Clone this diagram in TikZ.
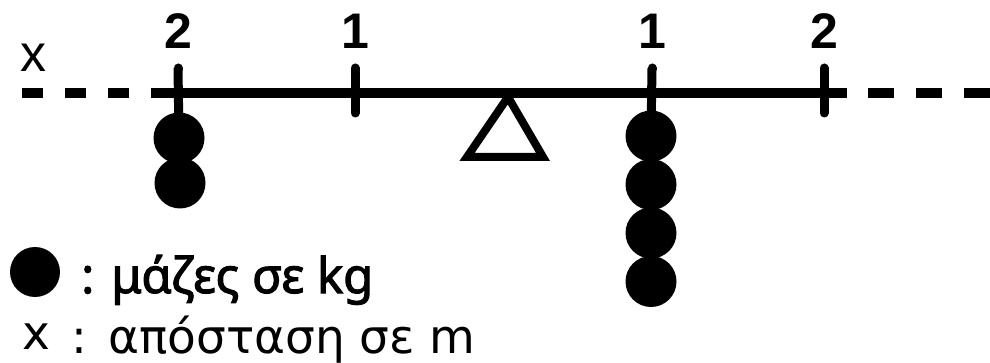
\documentclass[tikz,border=0pt]{standalone}
\usepackage{fontspec}
\setmainfont{DejaVu Sans}
\newfontfamily\numfont{Liberation Sans}
\newfontfamily\legfont[AutoFakeBold=2.2]{Noto Sans}
\tikzset{
  beam/.style={line width=10pt},
  tick/.style={line width=9pt,line cap=round},
  mass/.style={circle,fill=black,inner sep=0pt,minimum size=51pt},
  num/.style={font=\numfont\bfseries\fontsize{50}{50}\selectfont,inner sep=0pt},
  legone/.style={anchor=base west,inner sep=0pt,font=\legfont\bfseries\fontsize{49}{49}\selectfont},
  legtwo/.style={anchor=base west,inner sep=0pt,font=\fontsize{47}{47}\selectfont}
}
\begin{document}
\begin{tikzpicture}[x=1pt,y=-1pt]
\useasboundingbox (0,0) rectangle (990,363);
% beam
\draw[beam] (152,93) -- (847,93);
\draw[beam,dash pattern=on 21pt off 22pt] (22,93) -- (152,93);
\draw[beam,dash pattern=on 26pt off 22pt] (868,93) -- (990,93);
% fulcrum
\draw[line width=8pt] (508,97) -- (543,157) -- (467,157) -- cycle;
% ticks and labels
\foreach \xx/\lab/\name in {178/2/la,355/1/lb,652/1/ra,824/2/rb}{
  \coordinate (t\name) at (\xx,68);
  \node[num] at (\xx,31) {\lab};
}
\draw[tick] (tlb) -- ++(0,45);
\draw[tick] (trb) -- ++(0,45);
% masses
\node[mass] (ml1) at (179,138) {};
\node[mass] (ml2) at (180,183) {};
\foreach \i in {1,...,4}{
  \node[mass] (mr\i) at (651,{136+48.5*(\i-1)}) {};
}
\draw[tick,line cap=butt] (tla) -- (ml1.center);
\draw[tick,line cap=butt] (tra) -- (mr1.center);
\draw[tick] (tla) -- ++(0,1);
\draw[tick] (tra) -- ++(0,1);
\node[font=\numfont\fontsize{52}{52}\selectfont,inner sep=0pt] (xlab) at (33,58) {x};
% legend
\node[mass,minimum size=50pt] (dot) at (35,272) {};
\node[legone] (col1) at (81,293) {:};
\node[legone] (leg1) at (111,293) {μάζες σε kg};
\node[legtwo] (xleg) at (22,349) {x};
\node[legtwo] (col2) at (71,353) {:};
\node[legtwo] (leg2) at (108,353) {απόσταση σε m};
\end{tikzpicture}
\end{document}
